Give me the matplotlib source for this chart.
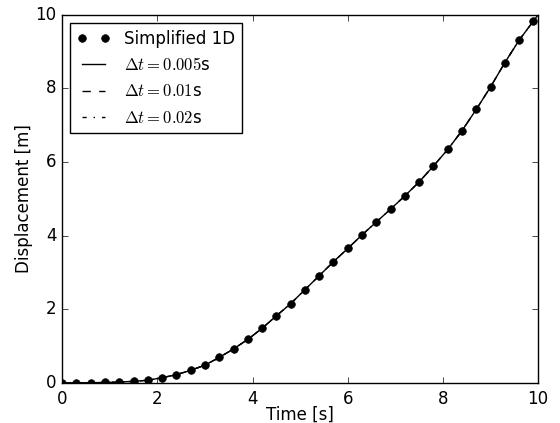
import matplotlib
matplotlib.use("Agg")
import matplotlib.pyplot as plt

plt.style.use("classic")

# simplified 1D solution (dots)
t_simple = [0.0, 0.3, 0.6, 0.9, 1.2, 1.5, 1.8, 2.1, 2.4, 2.7, 3.0, 3.3, 3.6,
            3.9, 4.2, 4.5, 4.8, 5.1, 5.4, 5.7, 6.0, 6.3, 6.6, 6.9, 7.2, 7.5,
            7.8, 8.1, 8.4, 8.7, 9.0, 9.3, 9.6, 9.9]
x_simple = [0.0, 0.0, 0.0, 0.01, 0.02, 0.04, 0.07, 0.14, 0.22, 0.34, 0.48,
            0.69, 0.92, 1.18, 1.48, 1.82, 2.15, 2.53, 2.91, 3.29, 3.65, 4.02,
            4.37, 4.72, 5.08, 5.46, 5.89, 6.34, 6.85, 7.43, 8.04, 8.70, 9.31,
            9.83]

# full simulations with different time steps
t_sim = [0.0, 0.3, 0.6, 0.9, 1.2, 1.5, 1.8, 2.1, 2.4, 2.7, 3.0, 3.3, 3.6,
         3.9, 4.2, 4.5, 4.8, 5.1, 5.4, 5.7, 6.0, 6.3, 6.6, 6.9, 7.2, 7.5,
         7.8, 8.1, 8.4, 8.7, 9.0, 9.3, 9.6, 9.9, 10.0]
x_dt005 = [0.0, 0.0, 0.0, 0.01, 0.02, 0.04, 0.07, 0.14, 0.22, 0.34, 0.48,
           0.69, 0.92, 1.18, 1.48, 1.82, 2.15, 2.53, 2.91, 3.29, 3.65, 4.02,
           4.37, 4.72, 5.08, 5.46, 5.89, 6.34, 6.85, 7.43, 8.04, 8.70, 9.31,
           9.83, 10.0]
x_dt01 = list(x_dt005)
x_dt02 = list(x_dt005)

fig = plt.figure(figsize=(5.6, 4.23), dpi=100, facecolor="white")
ax = fig.add_axes([0.111, 0.095, 0.85, 0.87])

ax.plot(t_simple, x_simple, "ko", markersize=5.5, label="Simplified 1D")
ax.plot(t_sim, x_dt005, "k-", lw=1, label=r"$\Delta t = 0.005$s")
ax.plot(t_sim, x_dt01, "k--", lw=1, label=r"$\Delta t = 0.01$s")
ax.plot(t_sim, x_dt02, "k-.", lw=1, label=r"$\Delta t = 0.02$s")

ax.set_xlim(0, 10)
ax.set_ylim(0, 10)
ax.set_xlabel("Time [s]", labelpad=-1.5)
ax.set_ylabel("Displacement [m]", labelpad=1.5)
ax.tick_params(axis="x", pad=5)
ax.legend(loc="upper left", numpoints=2, fontsize=12)

fig.savefig("out.png", dpi=100, facecolor="white")
